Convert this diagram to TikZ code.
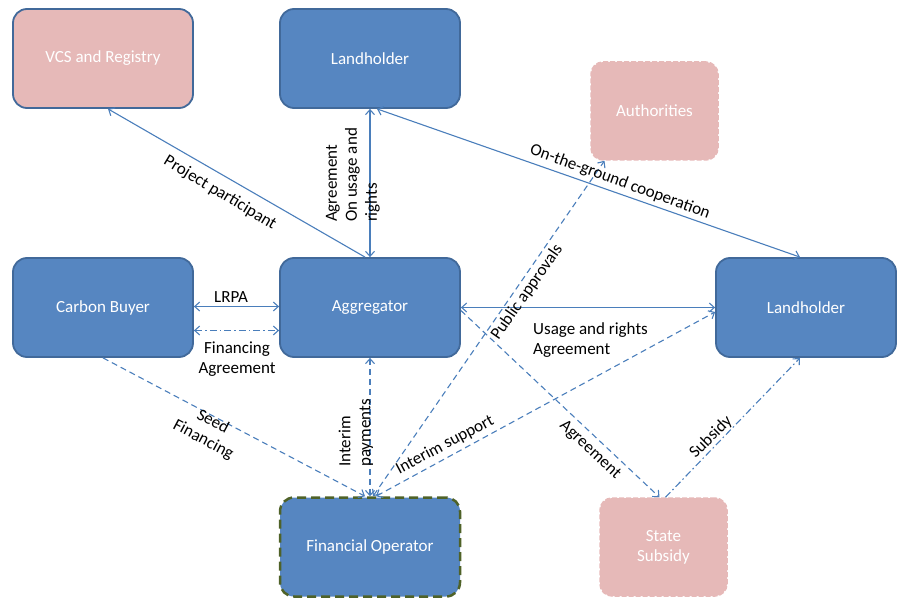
\documentclass[tikz,border=0pt]{standalone}
\usepackage{fontspec}
\setmainfont{Carlito}
\usetikzlibrary{arrows.meta}
\definecolor{boxblue}{HTML}{5686C1}
\definecolor{boxedge}{HTML}{41699A}
\definecolor{pinkfill}{HTML}{E6B9B8}
\definecolor{linkblue}{HTML}{4A7EBB}
\definecolor{olivedge}{HTML}{4F6228}
\newcommand{\nodefnt}{\fontsize{17}{20}\selectfont}
\newcommand{\lblfnt}{\fontsize{17}{20}\selectfont}
\tikzset{
  box/.style={rounded corners=14pt, minimum width=180pt, minimum height=99pt, fill=boxblue, draw=boxedge, line width=1.8pt, text=white, font=\nodefnt, inner sep=0pt},
  pbox/.style={rounded corners=12pt, minimum width=127pt, minimum height=98pt, fill=pinkfill, draw=pinkfill, line width=1.5pt, dash pattern=on 5pt off 2pt, text=white, font=\nodefnt, inner sep=0pt, align=center},
  fobox/.style={box, draw=olivedge, line width=2.5pt, dash pattern=on 9pt off 5pt},
  tip/.tip={Straight Barb[length=5pt,width=9pt]},
  link/.style={draw=linkblue, line width=1.1pt, -tip},
  dlink/.style={draw=linkblue, line width=1.1pt, tip-tip},
  dashedl/.style={dash pattern=on 6pt off 4pt},
  ddline/.style={dash pattern=on 7pt off 3pt on 1.5pt off 3pt},
  lbl/.style={font=\lblfnt, text=black, inner sep=1pt}
}
\begin{document}
\begin{tikzpicture}[x=1pt,y=-1pt]
\useasboundingbox (0,0) rectangle (900,599);
% nodes
\node[box, fill=pinkfill] (vcs) at (103,58.5) {VCS and Registry};
\node[box] (lh1) at (370,58.5) {Landholder};
\node[pbox] (auth) at (654.5,111) {Authorities};
\node[box] (cb) at (103,307.5) {Carbon Buyer};
\node[box] (agg) at (370,307.5) {Aggregator};
\node[box] (lh2) at (806,307.5) {Landholder};
\node[fobox] (fo) at (370,547) {Financial Operator};
\node[pbox] (ss) at (663.5,547) {State\\Subsidy};
% connectors
\draw[link] ([xshift=-5pt]agg.north) -- ([xshift=5pt]vcs.south);
\draw[dlink] (lh1.south) -- (agg.north);
\draw[dlink] ([xshift=7pt]lh1.south) -- ([xshift=-6pt]lh2.north);
\draw[dlink] ([yshift=1pt]cb.east) -- ([yshift=1pt]agg.west);
\draw[dlink, ddline] ([yshift=-23pt]cb.east) -- ([yshift=-23pt]agg.west);
\draw[dlink] (agg.east) -- (lh2.west);
\draw[link, dashedl] (cb.south) -- ([xshift=-5pt]fo.north);
\draw[dlink, dashedl] (fo.north) -- (agg.south);
\draw[dlink, dashedl] ([xshift=3pt]fo.north) -- ([xshift=-50pt]auth.south);
\draw[dlink, dashedl] ([xshift=6pt]fo.north) -- ([yshift=-4.5pt]lh2.west);
\draw[link, dashedl] ([yshift=-3pt]agg.east) -- ([xshift=-4pt]ss.north);
\draw[link, ddline] ([xshift=2pt]ss.north) -- ([xshift=-6pt]lh2.south);
% labels
\node[lbl, rotate=-31] (l1) at (220,193) {Project participant};
\node[lbl, rotate=90, align=left] (l2) at (353,175) {Agreement\\On usage and\\rights};
\node[lbl, rotate=-20] (l3) at (620,182) {On-the-ground cooperation};
\node[lbl] (l4) at (231,297) {LRPA};
\node[lbl, align=center] (l5) at (237,359) {Financing\\Agreement};
\node[lbl, align=left, anchor=west] (l6) at (532,340) {Usage and rights\\Agreement};
\node[lbl, rotate=-28, align=center] (l7) at (208,431) {Seed\\Financing};
\node[lbl, rotate=90, align=left] (l8) at (356,433) {Interim\\payments};
\node[lbl, rotate=55] (l9) at (527,292) {Public approvals};
\node[lbl, rotate=28] (l10) at (445,445) {Interim support};
\node[lbl, rotate=-43] (l11) at (590,450) {Agreement};
\node[lbl, rotate=45] (l12) at (711,437) {Subsidy};
\end{tikzpicture}
\end{document}
